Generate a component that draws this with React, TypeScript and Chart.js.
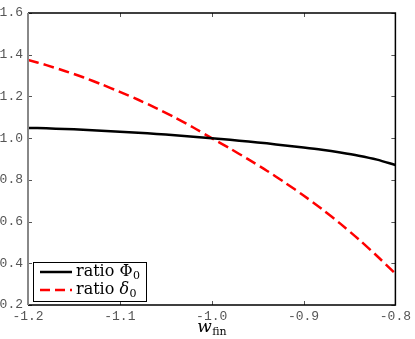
import React, { useEffect, useRef } from "react";
import { Chart, registerables } from "chart.js";

Chart.register(...registerables);

const xValues = [-1.2, -1.18, -1.16, -1.14, -1.12, -1.1, -1.08, -1.06, -1.04, -1.02, -1.0, -0.98, -0.96, -0.94, -0.92, -0.9, -0.88, -0.86, -0.84, -0.82, -0.8];
const phiRatio = [1.049, 1.047, 1.044, 1.04, 1.036, 1.031, 1.026, 1.02, 1.014, 1.007, 1.0, 0.992, 0.984, 0.975, 0.965, 0.955, 0.944, 0.931, 0.916, 0.897, 0.871];
const deltaRatio = [1.375, 1.35, 1.322, 1.292, 1.258, 1.222, 1.184, 1.143, 1.099, 1.051, 1.0, 0.95, 0.898, 0.844, 0.786, 0.725, 0.66, 0.59, 0.515, 0.435, 0.35];
const seriesNames = ["ratio \u03A6", "ratio \u03B4"];
const seriesSub = ["0", "0"];
const xTitleMain = "w";
const xTitleSub = "fin";
const xRange = [-1.2, -0.8];
const yRange = [0.2, 1.6];

const overlay = {
  id: "overlay",
  afterDraw(chart: any) {
    const { ctx, chartArea, scales } = chart;
    const { left, right, top, bottom } = chartArea;
    const xs = scales.x;
    const ys = scales.y;
    ctx.save();
    ctx.strokeStyle = "#555";
    ctx.lineWidth = 1;
    xs.ticks.forEach((t: any) => {
      const px = Math.round(xs.getPixelForValue(t.value)) + 0.5;
      ctx.beginPath();
      ctx.moveTo(px, bottom);
      ctx.lineTo(px, bottom - 4);
      ctx.moveTo(px, top);
      ctx.lineTo(px, top + 4);
      ctx.stroke();
    });
    ys.ticks.forEach((t: any) => {
      const py = Math.round(ys.getPixelForValue(t.value)) + 0.5;
      ctx.beginPath();
      ctx.moveTo(left, py);
      ctx.lineTo(left + 4, py);
      ctx.moveTo(right, py);
      ctx.lineTo(right - 4, py);
      ctx.stroke();
    });
    ctx.strokeStyle = "#000";
    ctx.lineWidth = 1.5;
    ctx.beginPath();
    ctx.moveTo(left, top);
    ctx.lineTo(right, top);
    ctx.lineTo(right, bottom);
    ctx.lineTo(left, bottom);
    ctx.stroke();
    ctx.strokeStyle = "#888";
    ctx.lineWidth = 2;
    ctx.beginPath();
    ctx.moveTo(left, top);
    ctx.lineTo(left, bottom);
    ctx.stroke();

    const bx = left + 5;
    const by = bottom - 43;
    const bw = 113;
    const bh = 39;
    ctx.fillStyle = "#fff";
    ctx.fillRect(bx, by, bw, bh);
    ctx.strokeStyle = "#000";
    ctx.lineWidth = 1;
    ctx.strokeRect(bx + 0.5, by + 0.5, bw, bh);
    const rows = [by + 10, by + 28];
    const styles = [
      { color: "#000", dash: [] as number[] },
      { color: "#ff0000", dash: [10, 5] },
    ];
    rows.forEach((ry, i) => {
      ctx.strokeStyle = styles[i].color;
      ctx.lineWidth = 2.5;
      ctx.setLineDash(styles[i].dash);
      ctx.beginPath();
      ctx.moveTo(bx + 7, ry);
      ctx.lineTo(bx + 39, ry);
      ctx.stroke();
      ctx.setLineDash([]);
      ctx.fillStyle = "#000";
      ctx.textBaseline = "middle";
      ctx.textAlign = "left";
      const name = seriesNames[i];
      const base = name.slice(0, -1);
      const sym = name.slice(-1);
      ctx.font = "16px 'DejaVu Serif'";
      ctx.fillText(base, bx + 43, ry);
      let w = ctx.measureText(base).width;
      ctx.font = i === 1 ? "italic 16px 'DejaVu Serif'" : "16px 'DejaVu Serif'";
      ctx.fillText(sym, bx + 43 + w, ry);
      w += ctx.measureText(sym).width;
      ctx.font = "11px 'DejaVu Serif'";
      ctx.fillText(seriesSub[i], bx + 43 + w + 0.5, ry + 4);
    });

    ctx.fillStyle = "#000";
    ctx.textBaseline = "alphabetic";
    ctx.font = "italic 17px 'DejaVu Serif'";
    const mw = ctx.measureText(xTitleMain).width;
    ctx.font = "11px 'DejaVu Serif'";
    const sw = ctx.measureText(xTitleSub).width;
    const cx = (left + right) / 2;
    const sx = cx - (mw + sw) / 2;
    ctx.font = "italic 17px 'DejaVu Serif'";
    ctx.fillText(xTitleMain, sx, 332);
    ctx.font = "11px 'DejaVu Serif'";
    ctx.fillText(xTitleSub, sx + mw + 0.5, 335);
    ctx.restore();
  },
};

export default function App() {
  const ref = useRef<HTMLCanvasElement>(null);
  useEffect(() => {
    const chart = new Chart(ref.current!, {
      type: "line",
      data: {
        datasets: [
          {
            label: seriesNames[0] + seriesSub[0],
            data: xValues.map((x, i) => ({ x, y: phiRatio[i] })),
            borderColor: "#000",
            borderWidth: 2.5,
            pointRadius: 0,
            tension: 0.3,
            fill: false,
          },
          {
            label: seriesNames[1] + seriesSub[1],
            data: xValues.map((x, i) => ({ x, y: deltaRatio[i] })),
            borderColor: "#ff0000",
            borderWidth: 2.5,
            borderDash: [11, 5],
            pointRadius: 0,
            tension: 0.3,
            fill: false,
          },
        ],
      },
      options: {
        animation: false,
        responsive: false,
        maintainAspectRatio: false,
        layout: { padding: { top: 13, right: 17, left: 0, bottom: 0 } },
        plugins: { legend: { display: false }, tooltip: { enabled: false } },
        scales: {
          x: {
            type: "linear",
            min: xRange[0],
            max: xRange[1],
            grid: { display: false, drawTicks: false },
            border: { display: false },
            ticks: {
              stepSize: 0.1,
              padding: 4,
              color: "#555",
              font: { family: "'Liberation Mono'", size: 13 },
              callback: (v: any) => Number(v).toFixed(1),
              maxRotation: 0,
            },
            afterFit: (s: any) => {
              s.height = 34;
            },
          },
          y: {
            type: "linear",
            min: yRange[0],
            max: yRange[1],
            grid: { display: false, drawTicks: false },
            border: { display: false },
            ticks: {
              stepSize: 0.2,
              padding: 5,
              color: "#555",
              font: { family: "'Liberation Mono'", size: 13 },
              callback: (v: any) => Number(v).toFixed(1),
            },
            afterFit: (s: any) => {
              s.width = 28;
            },
          },
        },
      },
      plugins: [overlay],
    });
    return () => chart.destroy();
  }, []);
  return (
    <div style={{ position: "fixed", left: 0, top: 0, width: 415, height: 339, background: "#fff" }}>
      <canvas ref={ref} width={415} height={339} style={{ width: 415, height: 339, display: "block" }} />
    </div>
  );
}
